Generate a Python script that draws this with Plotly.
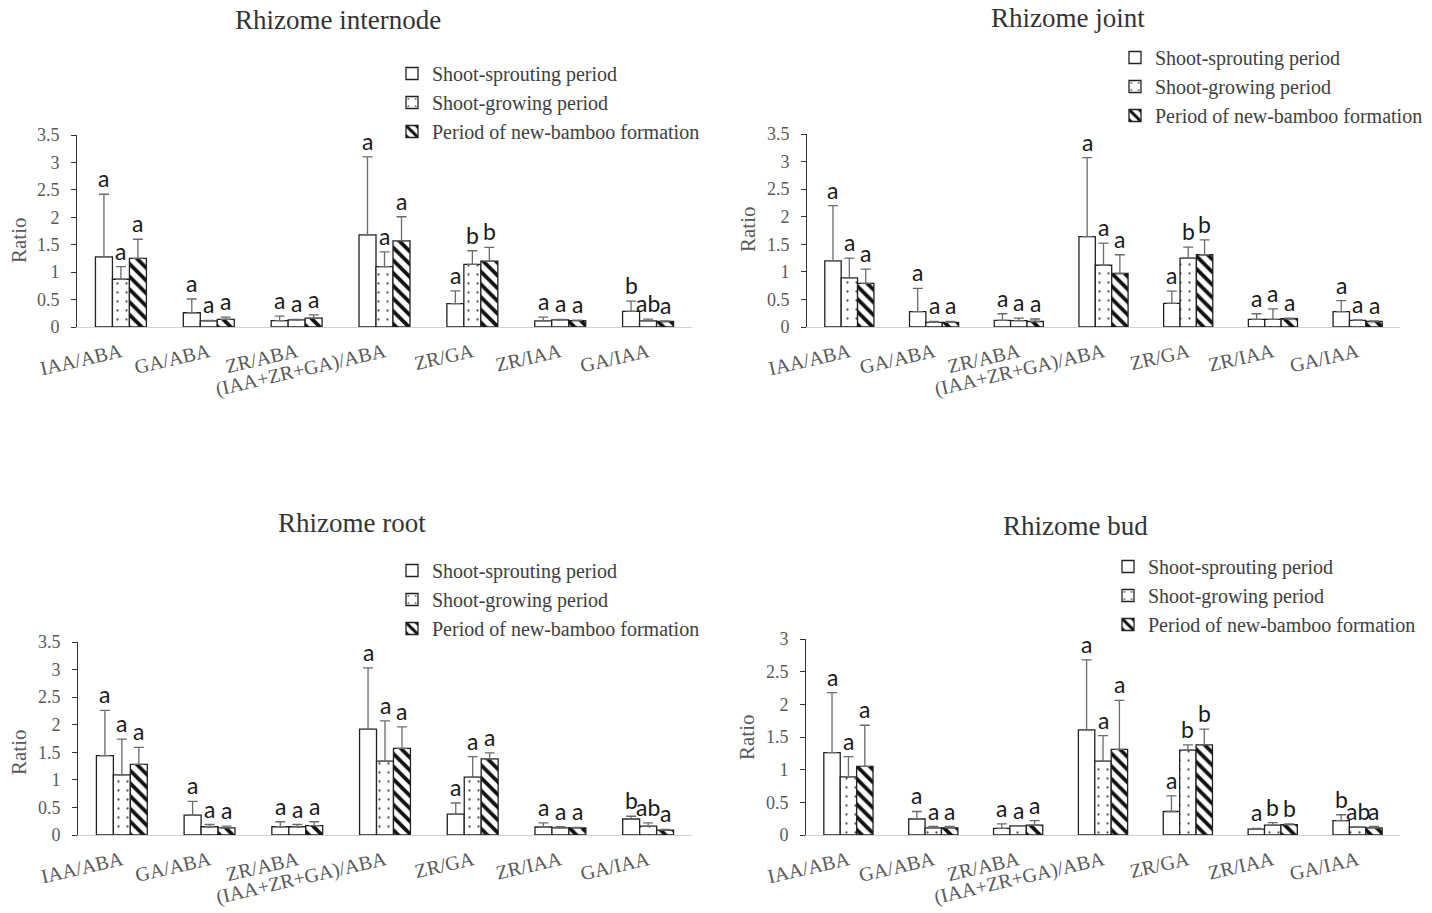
import plotly.graph_objects as go

# Hormone ratio categories and sampling periods
categories = ["IAA/ABA", "GA/ABA", "ZR/ABA", "(IAA+ZR+GA)/ABA", "ZR/GA", "ZR/IAA", "GA/IAA"]
periods = ["Shoot-sprouting period", "Shoot-growing period", "Period of new-bamboo formation"]
panel_titles = ["Rhizome internode", "Rhizome joint", "Rhizome root", "Rhizome bud"]

# Rhizome internode: means, SD, significance letters
internode_sprouting = [1.28, 0.26, 0.115, 1.68, 0.425, 0.11, 0.285]
internode_sprouting_sd = [1.14, 0.25, 0.085, 1.42, 0.235, 0.07, 0.185]
internode_growing = [0.87, 0.11, 0.13, 1.10, 1.14, 0.13, 0.11]
internode_growing_sd = [0.23, 0.01, 0.01, 0.27, 0.25, 0.01, 0.035]
internode_newbamboo = [1.25, 0.14, 0.16, 1.57, 1.20, 0.115, 0.10]
internode_newbamboo_sd = [0.35, 0.04, 0.06, 0.44, 0.25, 0.01, 0.01]
internode_letters = [["a", "a", "a", "a", "a", "a", "b"],
                     ["a", "a", "a", "a", "b", "a", "ab"],
                     ["a", "a", "a", "a", "b", "a", "a"]]

# Rhizome joint
joint_sprouting = [1.20, 0.28, 0.12, 1.64, 0.43, 0.14, 0.28]
joint_sprouting_sd = [1.00, 0.42, 0.12, 1.43, 0.22, 0.10, 0.20]
joint_growing = [0.89, 0.085, 0.115, 1.12, 1.25, 0.14, 0.12]
joint_growing_sd = [0.36, 0.015, 0.045, 0.40, 0.20, 0.19, 0.01]
joint_newbamboo = [0.79, 0.085, 0.10, 0.97, 1.31, 0.15, 0.10]
joint_newbamboo_sd = [0.26, 0.015, 0.045, 0.34, 0.27, 0.01, 0.01]
joint_letters = [["a", "a", "a", "a", "a", "a", "a"],
                 ["a", "a", "a", "a", "b", "a", "a"],
                 ["a", "a", "a", "a", "b", "a", "a"]]

# Rhizome root
root_sprouting = [1.44, 0.36, 0.15, 1.92, 0.38, 0.145, 0.29]
root_sprouting_sd = [0.82, 0.25, 0.09, 1.11, 0.20, 0.075, 0.05]
root_growing = [1.09, 0.15, 0.15, 1.34, 1.05, 0.13, 0.16]
root_growing_sd = [0.65, 0.04, 0.04, 0.73, 0.37, 0.02, 0.06]
root_newbamboo = [1.28, 0.13, 0.17, 1.57, 1.38, 0.13, 0.09]
root_newbamboo_sd = [0.31, 0.03, 0.07, 0.39, 0.11, 0.01, 0.01]
root_letters = [["a", "a", "a", "a", "a", "a", "b"],
                ["a", "a", "a", "a", "a", "a", "ab"],
                ["a", "a", "a", "a", "a", "a", "a"]]

# Rhizome bud
bud_sprouting = [1.26, 0.245, 0.10, 1.61, 0.36, 0.09, 0.22]
bud_sprouting_sd = [0.92, 0.115, 0.07, 1.07, 0.24, 0.01, 0.09]
bud_growing = [0.89, 0.11, 0.14, 1.13, 1.30, 0.15, 0.12]
bud_growing_sd = [0.31, 0.02, 0.005, 0.39, 0.08, 0.04, 0.005]
bud_newbamboo = [1.05, 0.11, 0.15, 1.31, 1.38, 0.16, 0.11]
bud_newbamboo_sd = [0.63, 0.02, 0.07, 0.75, 0.24, 0.01, 0.02]
bud_letters = [["a", "a", "a", "a", "a", "a", "b"],
               ["a", "a", "a", "a", "b", "b", "ab"],
               ["a", "a", "a", "a", "b", "b", "a"]]

y_max = [3.5, 3.5, 3.5, 3.0]

panels = [
    ([internode_sprouting, internode_growing, internode_newbamboo],
     [internode_sprouting_sd, internode_growing_sd, internode_newbamboo_sd], internode_letters),
    ([joint_sprouting, joint_growing, joint_newbamboo],
     [joint_sprouting_sd, joint_growing_sd, joint_newbamboo_sd], joint_letters),
    ([root_sprouting, root_growing, root_newbamboo],
     [root_sprouting_sd, root_growing_sd, root_newbamboo_sd], root_letters),
    ([bud_sprouting, bud_growing, bud_newbamboo],
     [bud_sprouting_sd, bud_growing_sd, bud_newbamboo_sd], bud_letters),
]

W, H = 1432, 913
SERIF = "Liberation Serif"
SANS = "Lato"
GRAY = "#595959"
BARGAP = 0.42

# Plot areas in pixels: (left, right, top, bottom)
areas = [(77, 692, 135, 327), (807, 1400, 134, 327),
         (78, 692, 642, 835), (806, 1400, 639, 835)]
# Title centres, "Ratio" label centres, legend anchors (pixels)
title_pos = [(338, 20), (1068, 18), (352, 523), (1075, 526)]
ratio_pos = [(19, 240), (748, 229), (19, 752), (747, 737)]
legend_pos = [(392, 54), (1115, 38), (392, 551), (1108, 547)]

patterns = [
    dict(shape="", bgcolor="white"),
    dict(shape=".", fgcolor="#555555", bgcolor="white", size=9, solidity=0.05, fillmode="replace"),
    dict(shape="\\", fgcolor="#111111", bgcolor="white", size=9, solidity=0.42, fillmode="replace"),
]

fig = go.Figure()
annotations = []
layout_axes = {}

for p, (means, sds, letters) in enumerate(panels):
    sfx = "" if p == 0 else str(p + 1)
    xa, ya = "x" + sfx, "y" + sfx
    leg = "legend" + sfx
    for j in range(3):
        fig.add_trace(go.Bar(
            x=categories, y=means[j], name=periods[j],
            xaxis=xa, yaxis=ya, legend=leg, offsetgroup=str(j),
            marker=dict(color="white", line=dict(color="#222222", width=1.3),
                        pattern=patterns[j]),
            error_y=dict(type="data", symmetric=False, array=sds[j],
                         arrayminus=[0] * len(sds[j]),
                         color="#6b6b6b", thickness=1.3, width=5),
        ))
        w = (1 - BARGAP) / 3
        for i in range(len(categories)):
            annotations.append(dict(
                x=i + (j - 1) * w, y=means[j][i] + sds[j][i],
                xref=xa, yref=ya, text=letters[j][i], showarrow=False,
                yanchor="bottom", yshift=0,
                font=dict(family=SANS, size=23, color="#1a1a1a"),
            ))

    l, r, t, b = areas[p]
    layout_axes["xaxis" + sfx] = dict(
        domain=[l / W, r / W], anchor=ya, type="category", automargin=False,
        showline=True, linecolor="#d0d0d0", linewidth=1.2,
        ticks="", tickangle=-13, ticklabelstandoff=5,
        showgrid=False, zeroline=False,
        tickfont=dict(family=SERIF, size=20, color=GRAY),
    )
    layout_axes["yaxis" + sfx] = dict(
        domain=[(H - b) / H, (H - t) / H], anchor=xa, automargin=False,
        range=[0, y_max[p]], dtick=0.5, tick0=0,
        showline=True, linecolor="#333333", linewidth=1,
        ticks="outside", ticklen=5, tickcolor="#333333",
        ticklabelstandoff=8,
        showgrid=False, zeroline=False,
        tickfont=dict(family=SERIF, size=18, color=GRAY),
    )
    lx, ly = legend_pos[p]
    layout_axes[leg] = dict(
        x=lx / W, y=(H - ly) / H, xanchor="left", yanchor="top",
        bgcolor="rgba(0,0,0,0)", itemwidth=30, tracegroupgap=0,
        font=dict(family=SERIF, size=20, color="#404040"),
    )

    tx, ty = title_pos[p]
    annotations.append(dict(
        x=tx / W, y=(H - ty) / H, xref="paper", yref="paper",
        text=panel_titles[p], showarrow=False, xanchor="center", yanchor="middle",
        font=dict(family=SERIF, size=27, color="#333333"),
    ))
    rx, ry = ratio_pos[p]
    annotations.append(dict(
        x=rx / W, y=(H - ry) / H, xref="paper", yref="paper",
        text="Ratio", textangle=-90, showarrow=False,
        xanchor="center", yanchor="middle",
        font=dict(family=SERIF, size=21, color=GRAY),
    ))

fig.update_layout(
    width=W, height=H, margin=dict(l=0, r=0, t=0, b=0, autoexpand=False),
    paper_bgcolor="white", plot_bgcolor="white",
    barmode="group", bargap=BARGAP, bargroupgap=0,
    annotations=annotations, showlegend=True,
    **layout_axes,
)

fig.write_html("out.html")
